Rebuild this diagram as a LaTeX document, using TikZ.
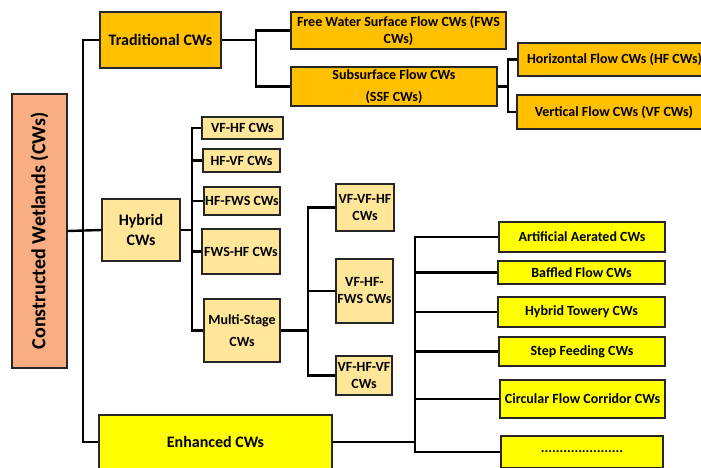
\documentclass[tikz,border=0pt]{standalone}
\usepackage{fontspec}
\setmainfont{Carlito}
\definecolor{tradc}{HTML}{FFC000}
\definecolor{hybc}{HTML}{FFE699}
\definecolor{enhc}{HTML}{FFFF00}
\definecolor{cwc}{HTML}{F8AD82}
\definecolor{bordc}{HTML}{262626}
\begin{document}
\begin{tikzpicture}[x=1pt,y=-1pt,
  box/.style={draw=bordc, line width=1.1pt, align=center, inner sep=0pt,
    font=\bfseries\fontsize{14}{17}\selectfont},
  sz/.style 2 args={minimum width=#1pt, minimum height=#2pt},
  trad/.style={box, fill=tradc},
  hyb/.style={box, fill=hybc},
  enh/.style={box, fill=enhc},
  big/.style={font=\bfseries\fontsize{16}{20}\selectfont},
  conn/.style={line width=2.4pt, black}]
\useasboundingbox (0,0) rectangle (701,468);
\clip (0,0) rectangle (701,468);
\fill[white] (0,0) rectangle (701,468);

% root
\node[box, fill=cwc, sz={55}{274}] (cw) at (39.5,231) {};
\node[rotate=90, font=\bfseries\fontsize{20}{22}\selectfont] (cwt) at (cw.center) {Constructed Wetlands (CWs)};

% traditional branch
\node[trad, big, sz={121}{56}] (trad) at (160.5,40) {Traditional CWs};
\node[trad, sz={215}{37}] (fws) at (398.5,30.5) {Free Water Surface Flow CWs (FWS\\CWs)};
\node[trad, sz={206}{39}] (ssf) at (394,86.5) {Subsurface Flow CWs\\[5pt](SSF CWs)};
\node[trad, sz={193}{33}] (hf) at (614.5,59.5) {Horizontal Flow CWs (HF CWs)};
\node[trad, sz={194}{34}] (vf) at (614,112) {Vertical Flow CWs (VF CWs)};

% hybrid branch
\node[hyb, big, sz={78}{62}] (hyb) at (141,230) {Hybrid\\CWs};
\node[hyb, sz={81}{22}] (vfhf) at (242.5,128) {VF-HF CWs};
\node[hyb, sz={77}{23}] (hfvf) at (241.5,160.5) {HF-VF CWs};
\node[hyb, sz={76}{28}] (hffws) at (242,201) {HF-FWS CWs};
\node[hyb, sz={78}{45}] (fwshf) at (241,251.5) {FWS-HF CWs};
\node[hyb, sz={76}{63}] (ms) at (242,330.5) {Multi-Stage\\[5pt]CWs};
\node[hyb, sz={58}{47}] (vvh) at (365,207.5) {VF-VF-HF\\CWs};
\node[hyb, sz={57}{64}] (vhf) at (364.5,291) {VF-HF-\\FWS CWs};
\node[hyb, sz={56}{39}] (vhv) at (364,375.5) {VF-HF-VF\\CWs};

% enhanced branch
\node[enh, big, sz={233}{54}] (enh) at (215.5,442) {Enhanced CWs};
\node[enh, sz={166}{30}] (aa) at (582,237) {Artificial Aerated CWs};
\node[enh, sz={167}{23}] (bf) at (581.5,272.5) {Baffled Flow CWs};
\node[enh, sz={167}{30}] (ht) at (581.5,312) {Hybrid Towery CWs};
\node[enh, sz={166}{29}] (sf) at (582,351.5) {Step Feeding CWs};
\node[enh, sz={165}{38}] (cf) at (582.5,399) {Circular Flow Corridor CWs};
\node[enh, sz={162}{32}] (dots) at (582,452) {\raisebox{1pt}{\makebox[0pt]{......................}}};

% connectors
\coordinate (tk) at (83,40);
\draw[conn] (trad.west) -- (tk) |- (enh.west);
\draw[conn] (cw.east) -- (hyb.west);

\coordinate (tb) at (256,40);
\draw[conn] (trad.east) -- (tb);
\draw[conn] (tb) |- (fws.west);
\draw[conn] (tb) |- (ssf.west);

\coordinate (sb) at (508,86.5);
\draw[conn] (ssf.east) -- (sb);
\draw[conn] (sb) |- (hf.west);
\draw[conn] (sb) |- (vf.west);

\coordinate (hb) at (192,230);
\draw[conn] (hyb.east) -- (hb);
\foreach \c in {vfhf,hfvf,hffws,fwshf,ms} \draw[conn] (hb) |- (\c.west);

\coordinate (mb) at (308,330.5);
\draw[conn] (ms.east) -- (mb);
\foreach \c in {vvh,vhf,vhv} \draw[conn] (mb) |- (\c.west);

\coordinate (eb) at (415,442);
\draw[conn] (enh.east) -- (eb);
\foreach \c in {aa,bf,ht,sf,cf,dots} \draw[conn] (eb) |- (\c.west);
\end{tikzpicture}
\end{document}
